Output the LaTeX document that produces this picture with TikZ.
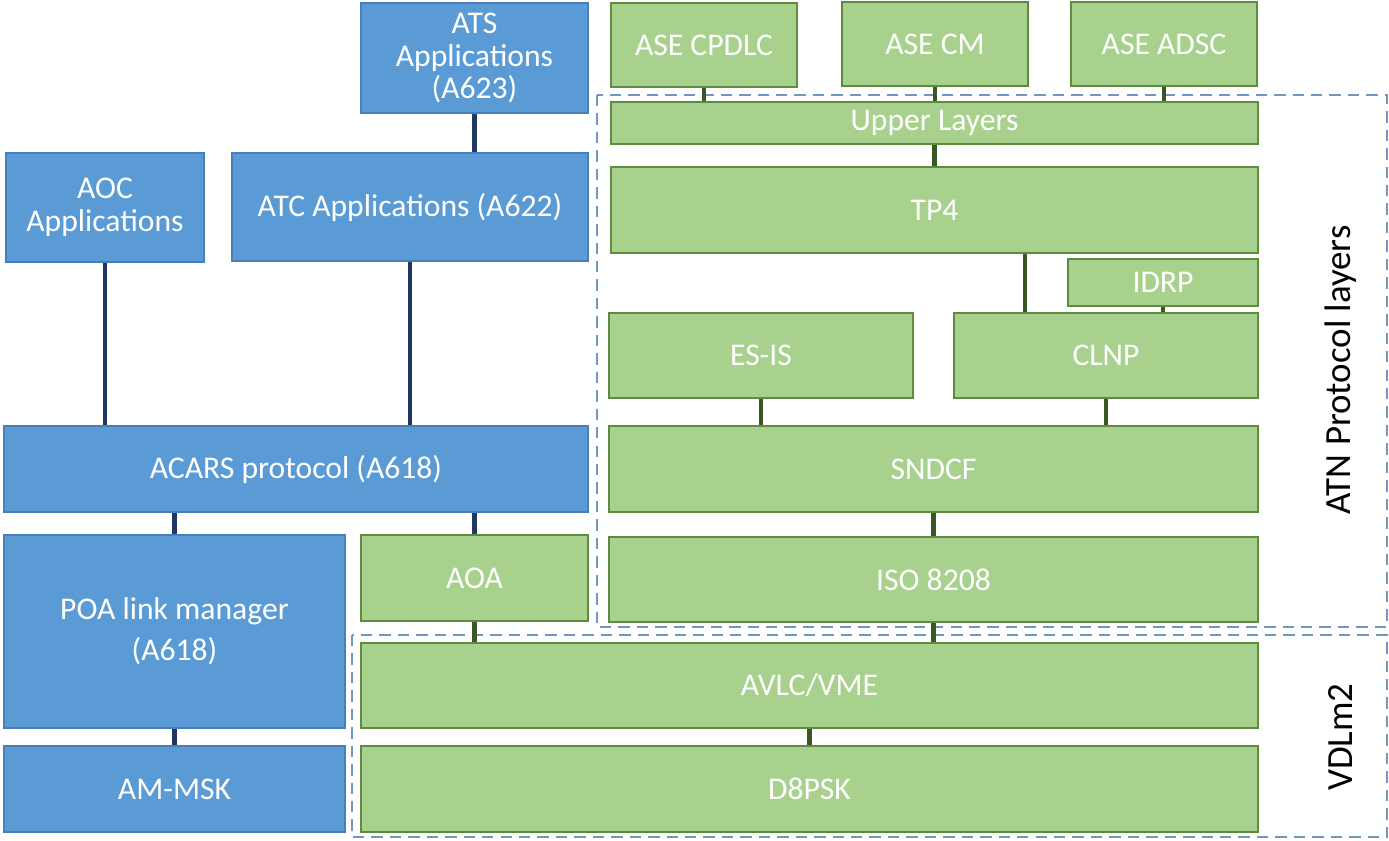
\documentclass[tikz,border=0pt]{standalone}
\usepackage{fontspec}
\setmainfont{Carlito}
\usepackage{tikz}
\usetikzlibrary{calc}
\definecolor{boxblue}{HTML}{5B9BD5}
\definecolor{edgeblue}{HTML}{4A7EBB}
\definecolor{boxgreen}{HTML}{A9D18E}
\definecolor{edgegreen}{HTML}{5E8C3E}
\definecolor{linkblue}{HTML}{1F3864}
\definecolor{linkgreen}{HTML}{385723}
\definecolor{dashblue}{HTML}{7096C2}

\begin{document}
\begin{tikzpicture}[x=0.02cm, y=-0.02cm,
      block-blue/.style = {
        rectangle, draw=edgeblue, fill=boxblue, line width=0.9pt, text=white,
        align=center, inner sep=0pt, font=\fontsize{18}{18.5}\selectfont },
      block-green/.style = {
        rectangle, draw=edgegreen, fill=boxgreen, line width=0.9pt, text=white,
        align=center, inner sep=0pt, font=\fontsize{18}{18.5}\selectfont },
      line-blue/.style = { draw=linkblue, line width=2.3pt },
      line-green/.style = { draw=linkgreen, line width=2.3pt },
      group/.style = { draw=dashblue, line width=1.6pt, dash pattern=on 6.5pt off 4pt },
      layer/.style = { rotate=90, font=\fontsize{21}{24}\selectfont }]
    \useasboundingbox (0,0) rectangle (1389,840);
    % dashed groups
    \draw[group] (597,95) rectangle (1387,627);
    \draw[group] (352,635) rectangle (1387,837);
    \node [layer] (atnlabel) at (1341,370) {ATN Protocol layers};
    \node [layer] (vdllabel) at (1341,737) {VDLm2};
    % ACARS side
    \node [block-blue, minimum width=4.54cm, minimum height=2.2cm] (ats) at (474.5,58) {ATS\\Applications\\(A623)};
    \node [block-blue, minimum width=3.96cm, minimum height=2.18cm] (aoc) at (105,207.5) {AOC\\Applications};
    \node [block-blue, minimum width=7.12cm, minimum height=2.16cm] (atc) at (410,207) {ATC Applications (A622)};
    \node [block-blue, minimum width=11.68cm, minimum height=1.72cm] (acars) at (296,469) {ACARS protocol (A618)};
    \node [block-blue, minimum width=6.82cm, minimum height=3.86cm] (poa) at (174.5,631.5) {POA link manager\\[5pt](A618)};
    \node [block-green, minimum width=4.54cm, minimum height=1.72cm] (aoa) at (474.5,578) {AOA};
    \node [block-blue, minimum width=6.82cm, minimum height=1.72cm] (ammsk) at (174.5,789) {AM-MSK};
    % ATN side
    \node [block-green, minimum width=3.72cm, minimum height=1.68cm] (cpdlc) at (704,45) {ASE CPDLC};
    \node [block-green, minimum width=3.72cm, minimum height=1.68cm] (cm) at (935,44) {ASE CM};
    \node [block-green, minimum width=3.72cm, minimum height=1.68cm] (adsc) at (1164,44) {ASE ADSC};
    \node [block-green, minimum width=12.94cm, minimum height=0.84cm] (upper) at (934.5,123) {Upper Layers};
    \node [block-green, minimum width=12.94cm, minimum height=1.72cm] (tp4) at (934.5,210) {TP4};
    \node [block-green, minimum width=3.8cm, minimum height=0.94cm] (idrp) at (1163,282.5) {IDRP};
    \node [block-green, minimum width=6.08cm, minimum height=1.7cm] (esis) at (761,355.5) {ES-IS};
    \node [block-green, minimum width=6.08cm, minimum height=1.7cm] (clnp) at (1106,355.5) {CLNP};
    \node [block-green, minimum width=12.98cm, minimum height=1.72cm] (sndcf) at (933.5,469) {SNDCF};
    \node [block-green, minimum width=12.98cm, minimum height=1.7cm] (iso) at (933.5,579.5) {ISO 8208};
    % VDL mode 2
    \node [block-green, minimum width=17.94cm, minimum height=1.7cm] (avlc) at (809.5,685.5) {AVLC/VME};
    \node [block-green, minimum width=17.94cm, minimum height=1.72cm] (d8psk) at (809.5,789) {D8PSK};
    % connect all nodes defined above
    \draw[line-blue] (ats) -- (ats |- atc.north);
    \draw[line-blue] (aoc) -- (aoc |- acars.north);
    \draw[line-blue] (atc) -- (atc |- acars.north);
    \draw[line-blue] (poa) -- (poa |- acars.south);
    \draw[line-blue] (aoa) -- (aoa |- acars.south);
    \draw[line-blue] (poa) -- (ammsk);
    \draw[line-green] (aoa.south) -- (aoa |- avlc.north);
    \draw[line-green] (cpdlc.south) -- (cpdlc |- upper.north);
    \draw[line-green] (cm.south) -- (cm |- upper.north);
    \draw[line-green] (adsc.south) -- (adsc |- upper.north);
    \draw[line-green] (upper.south) -- (upper |- tp4.north);
    \path ($(clnp.north west)!.235!(clnp.north east)$) coordinate (tpin);
    \draw[line-green] (tpin) -- (tpin |- tp4.south);
    \draw[line-green] (idrp.south) -- (idrp |- clnp.north);
    \draw[line-green] (esis.south) -- (esis |- sndcf.north);
    \draw[line-green] (clnp.south) -- (clnp |- sndcf.north);
    \draw[line-green] (sndcf.south) -- (sndcf |- iso.north);
    \draw[line-green] (iso.south) -- (iso |- avlc.north);
    \draw[line-green] (avlc.south) -- (avlc |- d8psk.north);
\end{tikzpicture}
\end{document}
